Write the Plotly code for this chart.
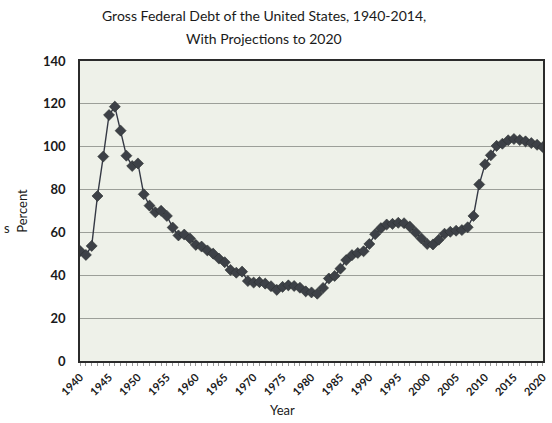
import plotly.graph_objects as go

# Gross federal debt as a share of GDP, actual through 2014, projected to 2020
years = list(range(1940, 2021))
debt_pct = [
    51.3, 49.5, 53.7, 77.0, 95.4, 114.8, 118.7, 107.5, 95.8, 91.0,   # 1940-1949
    92.2, 77.8, 72.5, 69.4, 70.1, 67.7, 62.3, 58.6, 59.0, 57.2,      # 1950-1959
    54.2, 53.4, 51.6, 50.1, 47.8, 46.1, 42.5, 41.2, 41.7, 37.3,      # 1960-1969
    36.6, 36.8, 36.1, 34.9, 33.2, 34.6, 35.3, 35.0, 34.2, 32.5,      # 1970-1979
    32.0, 31.4, 34.1, 38.5, 39.7, 43.1, 47.1, 49.4, 50.4, 51.2,      # 1980-1989
    54.6, 59.2, 62.0, 63.7, 64.0, 64.5, 64.3, 62.7, 60.0, 57.2,      # 1990-1999
    54.6, 54.4, 56.6, 59.4, 60.3, 60.8, 61.1, 62.4, 67.7, 82.4,      # 2000-2009
    91.8, 96.0, 100.4, 101.4, 103.0, 103.6, 103.1, 102.5, 101.7, 100.9,  # 2010-2019
    99.8,                                                            # 2020
]

x_tick_vals = list(range(1940, 2021, 5))
x_tick_text = [str(v) for v in x_tick_vals]
y_tick_vals = [0, 20, 40, 60, 80, 100, 120, 140]

title_lines = ["Gross Federal Debt of the United States, 1940-2014,",
               "With Projections to 2020"]

font_family = "Lato, Open Sans, sans-serif"
text_color = "#1a1a1a"

# Plot area in pixels: left 80, top 61, width 469, height 300
PLOT_L, PLOT_T, PLOT_W, PLOT_H = 80, 61, 469, 300


def px_to_paper(px, py):
    return (px - PLOT_L) / PLOT_W, (PLOT_T + PLOT_H - py) / PLOT_H


fig = go.Figure()
fig.add_trace(go.Scatter(
    x=years,
    y=debt_pct,
    mode="lines+markers",
    line=dict(color="#353945", width=1.4),
    marker=dict(symbol="diamond", size=8.5, color="#3d4147",
                line=dict(color="#2c3030", width=0.6)),
    showlegend=False,
    hoverinfo="x+y",
))

annotations = []
for line, yy in zip(title_lines, [15, 38]):
    ax, ay = px_to_paper(266, yy)
    annotations.append(dict(
        text=line, xref="paper", yref="paper", x=ax, y=ay,
        xanchor="center", yanchor="middle", showarrow=False,
        font=dict(size=14, family=font_family, color=text_color)))

yx, yy_ = px_to_paper(285, 410)
annotations.append(dict(
    text="Year", xref="paper", yref="paper", x=yx, y=yy_,
    xanchor="center", yanchor="middle", showarrow=False,
    font=dict(size=13, family=font_family, color=text_color)))

sx, sy = px_to_paper(1, 228)
annotations.append(dict(
    text="s", xref="paper", yref="paper", x=sx, y=sy,
    xanchor="left", yanchor="middle", showarrow=False,
    font=dict(size=13, family=font_family, color=text_color)))

fig.update_layout(
    width=552,
    height=423,
    margin=dict(l=PLOT_L, r=552 - PLOT_L - PLOT_W, t=PLOT_T, b=423 - PLOT_T - PLOT_H),
    paper_bgcolor="#ffffff",
    plot_bgcolor="#eef1e9",
    font=dict(family=font_family, color=text_color),
    xaxis=dict(
        range=[1939.98, 2020.02],
        tickmode="array",
        tickvals=x_tick_vals,
        ticktext=x_tick_text,
        tickangle=-45,
        ticklabeloverflow="allow",
        tickfont=dict(size=11, family=font_family, color=text_color, weight="bold"),
        ticks="outside",
        ticklen=4,
        tickcolor="rgba(0,0,0,0)",
        minor=dict(dtick=1, ticks="outside", ticklen=3, tickcolor="#9a9a9a", showgrid=False),
        showgrid=False,
        zeroline=False,
        showline=True,
        linecolor="#2b2b2b",
        linewidth=1.5,
        mirror=True,
    ),
    yaxis=dict(
        range=[0, 140],
        tickmode="array",
        tickvals=y_tick_vals,
        tickfont=dict(size=13, family=font_family, color=text_color, weight="bold"),
        ticks="outside",
        ticklen=10,
        tickcolor="rgba(0,0,0,0)",
        showgrid=True,
        gridcolor="#9c9f99",
        gridwidth=1,
        zeroline=False,
        showline=True,
        linecolor="#2b2b2b",
        linewidth=1.5,
        mirror=True,
        title=dict(text="Percent", font=dict(size=13, family=font_family, color=text_color),
                   standoff=12),
    ),
    annotations=annotations,
)

fig.write_html("out.html")
